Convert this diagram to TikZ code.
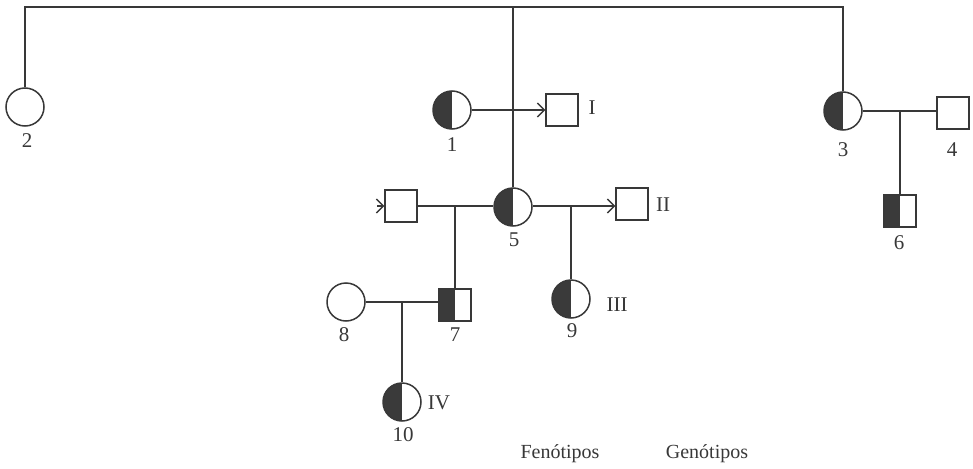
\documentclass[tikz,border=0pt]{standalone}
\usepackage{fontspec}
\setmainfont{Liberation Serif}
\usetikzlibrary{arrows.meta}
\definecolor{ink}{HTML}{383838}
\definecolor{halfink}{HTML}{3A3A3A}
\tikzset{
  line/.style={draw=ink, line width=1.5pt},
  arr/.style={line, -{Straight Barb[length=7pt,width=14pt,line width=1.3pt]}},
  female/.style={circle, draw=ink, line width=1.5pt, minimum size=38pt, inner sep=0pt},
  male/.style={rectangle, draw=ink, line width=1.5pt, minimum size=32pt, inner sep=0pt},
  carrier/.style={path picture={\fill[halfink] (path picture bounding box.south west) rectangle (path picture bounding box.north);}},
  lab/.style={inner sep=0pt, font=\fontsize{21}{24}\selectfont, text=ink},
  caption/.style={inner sep=0pt, anchor=base, font=\fontsize{20}{24}\selectfont, text=ink}
}
\begin{document}
\begin{tikzpicture}[x=1pt, y=-1pt]
\useasboundingbox (0,0) rectangle (973,468);

% individuals
\node[female]         (f2)  at (25,107)  {};
\node[female,carrier] (f1)  at (452,110) {};
\node[male]           (mI)  at (562,110) {};
\node[female,carrier] (f3)  at (843,111) {};
\node[male]           (m4)  at (953,113) {};
\node[male,carrier]   (m6)  at (900,211) {};
\node[male]           (mL)  at (401,206) {};
\node[female,carrier] (f5)  at (513,207) {};
\node[male]           (mII) at (632,204) {};
\node[male,carrier]   (m7)  at (455,305) {};
\node[female]         (f8)  at (346,302) {};
\node[female,carrier] (f9)  at (571,299) {};
\node[female,carrier] (f10) at (402,402) {};

% top line joining 2, 5 and 3
\coordinate (top2) at (25,7);
\coordinate (top5) at (513,7);
\coordinate (top3) at (843,7);
\draw[line] (f2.north) -- (top2) -- (top3) -- (f3.north);
\draw[line] (top5) -- (f5.north);

% 1 -> I
\draw[arr] (f1.east) -- (f1.east -| mI.west);

% couple 3 x 4 and child 6
\draw[line] (f3.east) -- (f3.east -| m4.west);
\coordinate (c34) at (900,111);
\draw[line] (c34) -- (m6.north);

% arrow into the left partner of 5
\coordinate (inL) at (377,206);
\draw[arr] (inL) -- (mL.west);

% couple left partner x 5 and child 7
\draw[line] (mL.east) -- (mL.east -| f5.west);
\coordinate (cL5) at (455,206);
\draw[line] (cL5) -- (m7.north);

% 5 -> II and child 9
\draw[arr] (f5.east |- mL.east) -- (mL.east -| mII.west);
\coordinate (c5II) at (571,206);
\draw[line] (c5II) -- (f9.north);

% couple 8 x 7 and child 10
\draw[line] (f8.east) -- (f8.east -| m7.west);
\coordinate (c87) at (402,302);
\draw[line] (c87) -- (f10.north);

% numbers
\node[lab] (l2)  at (27,141)  {2};
\node[lab] (l1)  at (452,145) {1};
\node[lab] (l3)  at (843,150) {3};
\node[lab] (l4)  at (952,150) {4};
\node[lab] (l6)  at (899,243) {6};
\node[lab] (l5)  at (514,240) {5};
\node[lab] (l7)  at (455,335) {7};
\node[lab] (l8)  at (344,335) {8};
\node[lab] (l9)  at (572,331) {9};
\node[lab] (l10) at (403,435) {10};

% roman numerals
\node[lab] (rI)   at (592,108) {I};
\node[lab] (rII)  at (663,205) {II};
\node[lab] (rIII) at (617,305) {III};
\node[lab] (rIV)  at (439,403) {IV};

% captions
\node[caption] (fen) at (560,458) {Fenótipos};
\node[caption] (gen) at (707,458) {Genótipos};
\end{tikzpicture}
\end{document}
